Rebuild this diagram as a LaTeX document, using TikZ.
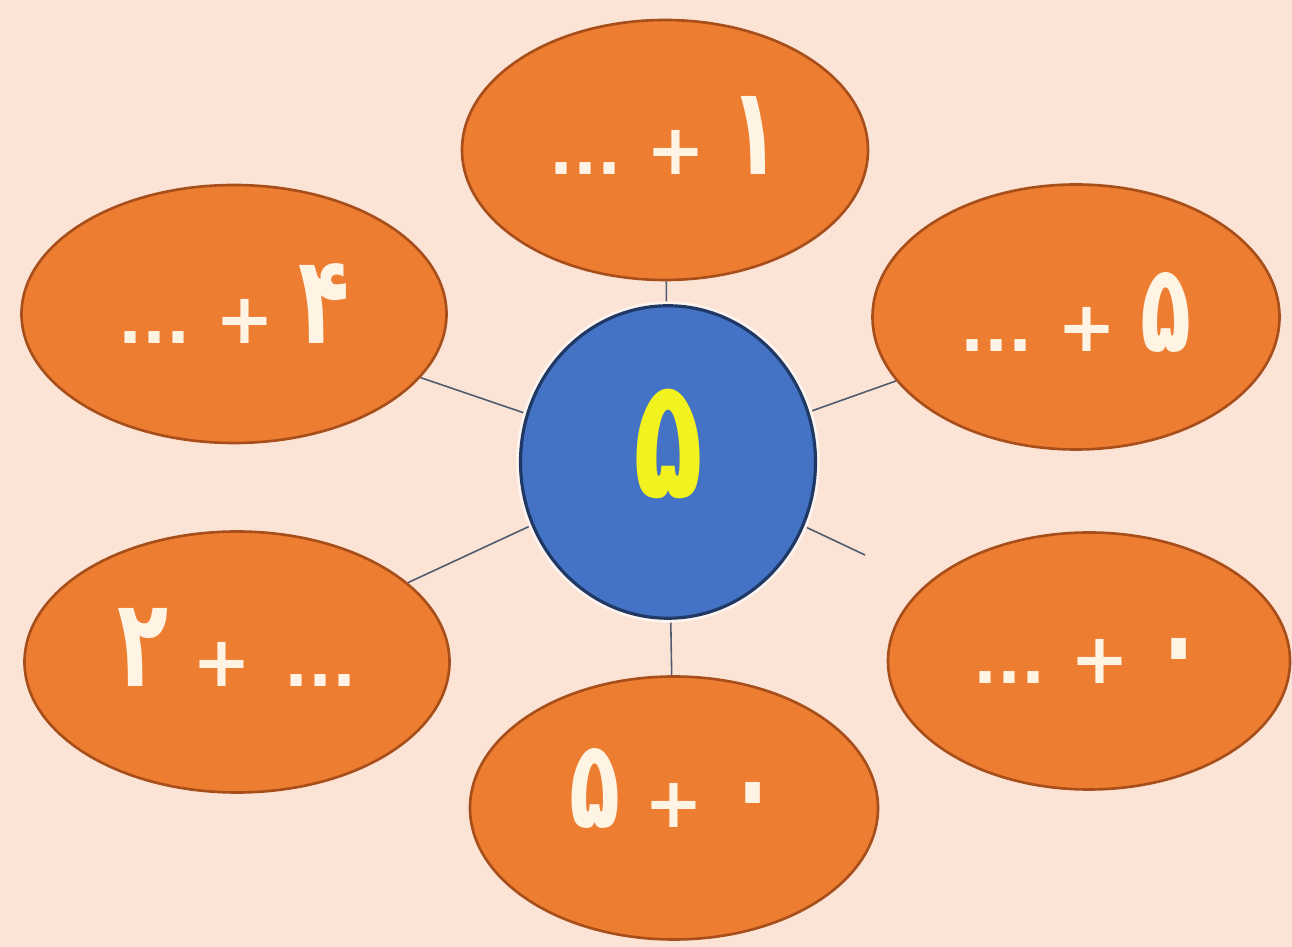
\documentclass[tikz,border=0pt]{standalone}
\usepackage{fontspec}
\usetikzlibrary{shapes.geometric,backgrounds}
\TeXXeTstate=1
\newfontfamily\arabicfont[Script=Arabic,Language=Farsi]{DejaVu Sans}
\newfontfamily\digitfont[Script=Arabic,Language=Farsi,FakeStretch=0.68]{DejaVu Sans}
\newcommand{\dig}[1]{{\digitfont\bfseries\fontsize{70}{80}\selectfont #1}}
\newcommand{\dts}{{\fontsize{36}{40}\selectfont ...}}
\definecolor{pagebg}{HTML}{FBE4D6}
\definecolor{petalfill}{HTML}{ED7D31}
\definecolor{petalline}{HTML}{A84E1A}
\definecolor{hubfill}{HTML}{4472C4}
\definecolor{hubline}{HTML}{1F3864}
\definecolor{spoke}{HTML}{4F5B6E}
\definecolor{petaltext}{HTML}{FFF4E4}
\definecolor{hubtext}{HTML}{F2F21E}
\begin{document}
\begin{tikzpicture}[
    petal/.style={ellipse, draw=petalline, line width=1.5pt, fill=petalfill, inner sep=0pt},
    petallabel/.style={text=petaltext, font=\arabicfont\bfseries\fontsize{40}{48}\selectfont, inner sep=0pt},
    hub/.style={ellipse, draw=hubline, line width=1.8pt, fill=hubfill,
      preaction={draw=white!60!pagebg, line width=5pt},
      minimum width=5.9cm, minimum height=6.25cm, inner sep=0pt},
    hublabel/.style={text=hubtext, font=\digitfont\bfseries\fontsize{96}{100}\selectfont, inner sep=0pt},
    spokeline/.style={draw=spoke, line width=0.9pt}
  ]
  \useasboundingbox (0,0) rectangle (25.84,18.94);
  % Centre
  \node[hub] (hub) at (13.36,9.70) {};
  \node[hublabel] (hubtxt) at ([yshift=3.6mm]hub) {\beginR ۵\endR};
  % Petals
  \node[petal, minimum width=8.12cm, minimum height=5.2cm] (top) at (13.30,15.94) {};
  \node[petal, minimum width=8.5cm, minimum height=5.16cm] (upleft) at (4.68,12.66) {};
  \node[petal, minimum width=8.14cm, minimum height=5.3cm] (upright) at (21.52,12.60) {};
  \node[petal, minimum width=8.5cm, minimum height=5.22cm] (lowleft) at (4.74,5.70) {};
  \node[petal, minimum width=8.04cm, minimum height=5.14cm] (lowright) at (21.78,5.72) {};
  \node[petal, minimum width=8.16cm, minimum height=5.26cm] (bottom) at (13.48,2.78) {};
  % Petal texts
  \node[petallabel] (toptxt) at ([yshift=3mm]top) {\beginR \dig{۱} + \dts\endR};
  \node[petallabel] (uplefttxt) at ([yshift=2mm]upleft) {\beginR \dig{۴} + \dts\endR};
  \node[petallabel] (uprighttxt) at ([yshift=1mm]upright) {\beginR \dig{۵} + \dts\endR};
  \node[petallabel] (lowlefttxt) at ([yshift=3mm]lowleft) {\beginR \dts{} + \dig{۲}\endR};
  \node[petallabel] (lowrighttxt) at ([yshift=0mm]lowright) {\beginR \dig{۰} + \dts\endR};
  \node[petallabel] (bottomtxt) at ([yshift=4mm]bottom) {\beginR \dig{۰} + \dig{۵}\endR};
  % Spokes
  \coordinate (lowrightend) at (17.30,7.84);
  \begin{pgfonlayer}{background}
    \fill[pagebg] (0,0) rectangle (25.84,18.94);
    \draw[spokeline] (hub) -- (top);
    \draw[spokeline] (hub) -- (upleft);
    \draw[spokeline] (hub) -- (upright);
    \draw[spokeline] (hub) -- (lowleft);
    \draw[spokeline] (hub) -- (lowrightend);
    \draw[spokeline] (hub) -- (bottom);
  \end{pgfonlayer}
\end{tikzpicture}
\end{document}
